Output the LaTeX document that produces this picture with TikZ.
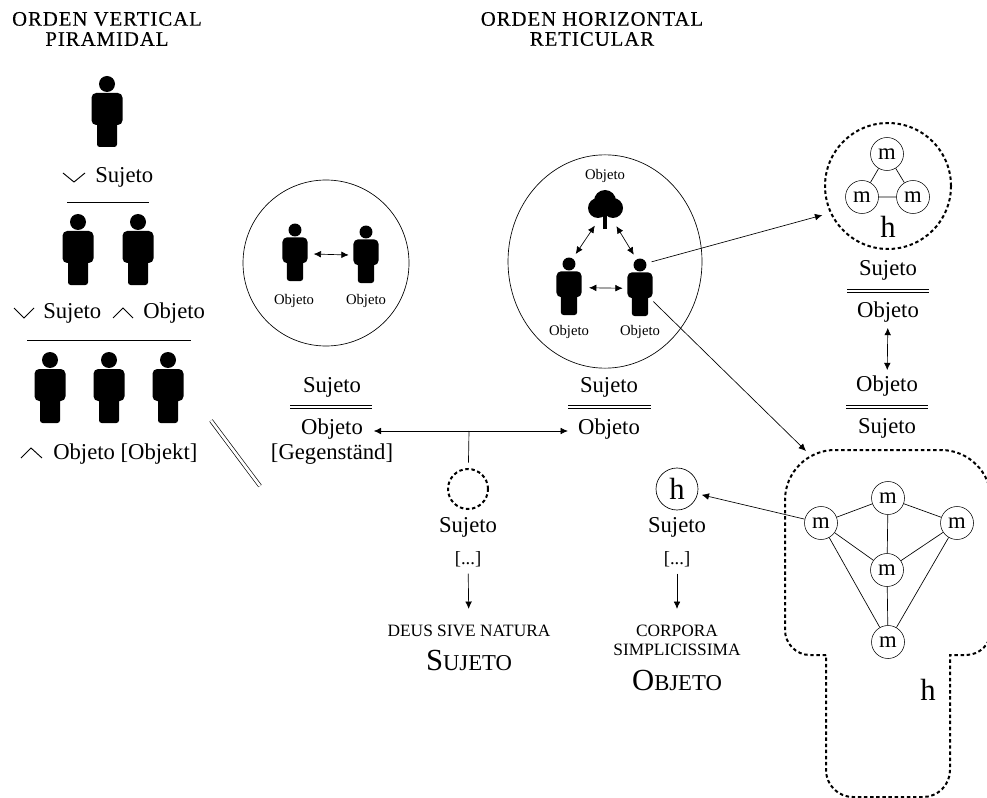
\documentclass[tikz,border=0pt]{standalone}
\usepackage{fontspec}
\usetikzlibrary{arrows.meta,shapes.geometric}
\setmainfont{Liberation Serif}
\newfontfamily\titulo[LetterSpace=5,FakeBold=.3]{Liberation Serif}
\newcommand{\tam}[1]{\fontsize{#1}{#1}\selectfont}
\tikzset{
tx/.style={inner sep=0,font=\tam{17}},
txp/.style={inner sep=0,font=\tam{11}},
txc/.style={inner sep=0,font=\tam{13}},
txt/.style={inner sep=0,font=\titulo\tam{15.5}},
mnodo/.style={circle,draw,inner sep=0,minimum size=24.75pt,font=\tam{17}},
punteada/.style={line width=1.5pt,dash pattern=on 2.6pt off 2pt},
fina/.style={line width=.5pt},
flecha/.style={fina,->,>={Latex[length=5.5pt,width=5pt]}},
dobleflecha/.style={fina,<->,>={Latex[length=5.5pt,width=5pt]}},
persona/.pic={
\fill (0,0) circle (8);
\fill[rounded corners=3.5pt] (-15.5,9) rectangle (15.5,41);
\fill[rounded corners=2pt] (-10,30) rectangle (10,63);
\coordinate (-cab) at (0,0);
\coordinate (-c) at (0,29);
}
}
\begin{document}
\begin{tikzpicture}[x=.75pt,y=-.75pt]
\useasboundingbox (0,0) rectangle (987,798);

% titulos
\node[txt] (tv1) at (107,19) {ORDEN VERTICAL};
\node[txt] (tv2) at (107,39) {PIRAMIDAL};
\node[txt] (th1) at (592,19) {ORDEN HORIZONTAL};
\node[txt] (th2) at (592,39) {RETICULAR};

% piramide
\pic (p1) at (107,84) {persona};
\foreach \x in {78,138}{
\pic at (\x,222) {persona};
}
\foreach \x in {50,109,168}{
\pic at (\x,360) {persona};
}
\draw[fina] (67,202) -- (149,202);
\draw[fina] (27,340) -- (191,340);
\draw[line width=.7pt] (63,173) -- (74,182) -- (85,173);
\draw[line width=.7pt] (14,308) -- (24,318) -- (34,308);
\draw[line width=.7pt] (113,318) -- (123,308) -- (133,318);
\draw[line width=.7pt] (21,458) -- (31,448) -- (42,458);
\node[tx,anchor=west] (s1) at (95,177) {Sujeto};
\node[tx,anchor=west] (s2) at (43,313) {Sujeto};
\node[tx,anchor=west] (o2) at (143,313) {Objeto};
\node[tx,anchor=west] (o3) at (53,454) {Objeto [Objekt]};
\draw[fina,double,double distance=2pt] (211,420.5) -- (260,486);

% circulo izquierdo
\node[circle,draw,fina,minimum size=124.5pt,inner sep=0] (ci) at (326,263) {};
\pic[scale=.81] (a) at (295,230) {persona};
\pic[scale=.81] (b) at (366,232) {persona};
\draw[dobleflecha,shorten <=14pt,shorten >=13pt] (a-c) -- (b-c);
\node[txp] (oa) at (294,301) {Objeto};
\node[txp] (ob) at (366,301) {Objeto};

% elipse central
\node[ellipse,draw,fina,minimum width=145.5pt,minimum height=160pt,inner sep=0] (cc) at (605,261.5) {};
\node[txp] (oarb) at (605,176) {Objeto};
\fill (605,201) circle (11);
\fill (598,208) circle (10);
\fill (613,208) circle (10);
\fill (603,212) rectangle (607,229);
\coordinate (arbol) at (606,209);
\pic[scale=.81] (iz) at (569,264) {persona};
\pic[scale=.81] (de) at (640,265) {persona};
\draw[dobleflecha,shorten <=15pt,shorten >=13pt] (iz-c) -- (de-c);
\draw[dobleflecha,shorten <=9pt,shorten >=15pt] (iz-cab) -- (arbol);
\draw[dobleflecha,shorten <=9pt,shorten >=15pt] (de-cab) -- (arbol);
\node[txp] (oiz) at (569,332) {Objeto};
\node[txp] (ode) at (640,332) {Objeto};

% textos con doble raya
\foreach \xa/\xb/\y in {290/372/407,568/651/407,847/929/291,846/928/407}{
\draw[fina,double,double distance=2pt] (\xa,\y) -- (\xb,\y);
}
\node[tx] (su1) at (332,387) {Sujeto};
\node[tx] (ob1) at (332,429) {Objeto};
\node[tx] (ge1) at (332,454) {[Gegenständ]};
\node[tx] (su2) at (609,387) {Sujeto};
\node[tx] (ob2) at (609,429) {Objeto};
\node[tx] (su3) at (888,270) {Sujeto};
\node[tx] (ob3) at (888,312) {Objeto};
\node[tx] (ob4) at (887,386) {Objeto};
\node[tx] (su4) at (887,428) {Sujeto};
\draw[dobleflecha,shorten <=4pt,shorten >=4pt] (ob3) -- (ob4);

% flecha horizontal
\coordinate (cruce) at (469,431);
\draw[flecha,shorten >=8pt] (cruce) -- (ob1.east |- cruce);
\draw[flecha,shorten >=7.5pt] (cruce) -- (ob2.west |- cruce);

% columna deus
\node[circle,draw,punteada,minimum size=30pt,inner sep=0] (vacio) at (468,489) {};
\draw[fina,shorten >=4pt] (cruce) -- (vacio);
\node[tx] (su5) at (468,527) {Sujeto};
\node[inner sep=0,font=\tam{14}] (pu5) at (468,559) {[...]};
\node[txc] (deus) at (469,631) {DEUS SIVE NATURA};
\node[inner sep=0] (suj) at (469,660) {\tam{23}S\tam{17}UJETO};
\draw[flecha,shorten <=5pt,shorten >=12pt] (pu5) -- (deus);

% columna corpora
\node[circle,draw,fina,minimum size=31.5pt,inner sep=0,font=\tam{23}] (hs) at (677,489) {h};
\node[tx] (su6) at (677,527) {Sujeto};
\node[inner sep=0,font=\tam{14}] (pu6) at (677,559) {[...]};
\node[txc] (corp) at (677,631) {CORPORA};
\node[txc] (simp) at (677,650) {SIMPLICISSIMA};
\node[inner sep=0] (obj) at (677,680) {\tam{23}O\tam{17}BJETO};
\draw[flecha,shorten <=5pt,shorten >=12pt] (pu6) -- (corp);

% h chico
\node[circle,draw,punteada,minimum size=94.5pt,inner sep=0] (hp) at (888,186) {};
\node[mnodo] (m1) at (887,154) {m};
\node[mnodo] (m2) at (862,197) {m};
\node[mnodo] (m3) at (913,197) {m};
\draw[fina] (m1) -- (m2) -- (m3) -- (m1);
\node[inner sep=0,font=\tam{23}] (h1) at (888,227) {h};
\draw[flecha,shorten <=9pt,shorten >=6pt] (de-cab) -- (hp.205);

% h grande
\draw[punteada] (826,655) -- (810,655) arc[start angle=90,end angle=180,radius=25] -- (785,500)
arc[start angle=180,end angle=270,radius=50] -- (941,450)
arc[start angle=270,end angle=360,radius=50] -- (991,630)
arc[start angle=0,end angle=90,radius=25] -- (950,655) -- (950,770)
arc[start angle=0,end angle=90,radius=27] -- (853,797)
arc[start angle=90,end angle=180,radius=27] -- cycle;
\node[mnodo] (g1) at (821,523) {m};
\node[mnodo] (g2) at (888,498) {m};
\node[mnodo] (g3) at (957,523) {m};
\node[mnodo] (g4) at (887,570) {m};
\node[mnodo] (g5) at (888,642) {m};
\foreach \a/\b in {g1/g2,g2/g3,g2/g4,g1/g4,g3/g4,g4/g5,g1/g5,g3/g5}{
\draw[fina] (\a) -- (\b);
}
\node[inner sep=0,font=\tam{23}] (h2) at (928,690) {h};
\coordinate (cima) at (806,451);
\draw[flecha,shorten <=14pt] (de-c) -- (cima);
\draw[flecha,shorten >=3pt] (g1) -- (hs);
\end{tikzpicture}
\end{document}
